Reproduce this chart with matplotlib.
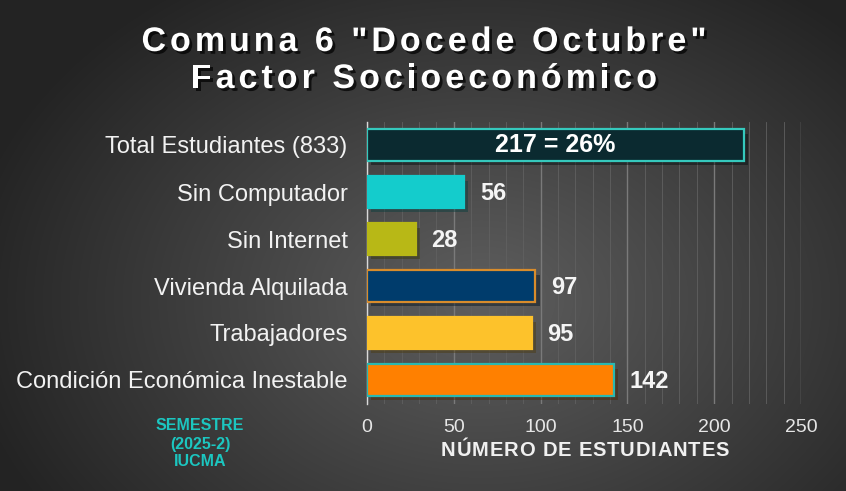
import numpy as np
import matplotlib.pyplot as plt
import matplotlib.patheffects as pe

categorias = ['Total Estudiantes (833)', 'Sin Computador', 'Sin Internet',
              'Vivienda Alquilada', 'Trabajadores', 'Condición Económica Inestable']
valores = [217, 56, 28, 97, 95, 142]
etiquetas = ['217 = 26%', '56', '28', '97', '95', '142']
relleno = ['#0b2a30', '#14cccc', '#b8b816', '#003c6c', '#fdc22b', '#ff8000']
borde = ['#35c9bd', '#14cccc', '#b8b816', '#d88c2c', '#fdc22b', '#2ab8b0']
ticks_x = [0, 50, 100, 150, 200, 250]

W, H = 846, 491
fig = plt.figure(figsize=(W / 100, H / 100), dpi=100)
rend = fig.canvas.get_renderer()


def ancho(s, **kw):
    t = fig.text(0, 0, s, **kw)
    w = t.get_window_extent(rend).width
    t.remove()
    return w


def texto_espaciado(s, xc, yb, esp, **kw):
    # texto con espaciado entre letras, xc / yb en pixeles (baseline)
    bar = ancho('|', **kw)
    pos = [ancho(s[:i] + '|', **kw) - bar if i else 0 for i in range(len(s))]
    total = ancho(s, **kw) + esp * (len(s) - 1)
    x0 = xc - total / 2
    for i, c in enumerate(s):
        if c == ' ':
            continue
        fig.text((x0 + pos[i] + i * esp) / W, 1 - yb / H, c, ha='left', va='baseline', **kw)


# fondo con degradado radial
bg = fig.add_axes([0, 0, 1, 1])
yy, xx = np.mgrid[0:H, 0:W]
r = np.sqrt(((xx - 480) / 520.0) ** 2 + ((yy - 300) / 380.0) ** 2)
g = np.clip(0.37 - 0.23 * r, 0.14, 0.37)
bg.imshow(np.dstack([g, g, g]), extent=[0, 1, 0, 1], aspect='auto', zorder=0)
bg.axis('off')

ax = fig.add_axes([367 / W, 1 - 403.5 / H, (801 - 367) / W, (403.5 - 121.5) / H])
ax.patch.set_alpha(0)

y = np.arange(len(categorias))
barras = ax.barh(y, valores, height=0.66, color=relleno, edgecolor=borde, linewidth=1.6, zorder=3)
for b in barras:
    b.set_path_effects([pe.SimplePatchShadow(offset=(3, -3), alpha=0.45), pe.Normal()])

ax.set_ylim(len(categorias) - 0.5, -0.5)
ax.set_xlim(0, 250)

ax.set_xticks(ticks_x)
ax.set_xticks(np.arange(0, 251, 10), minor=True)
ax.grid(axis='x', which='major', color='#7a7a7a', linewidth=1.0, zorder=1)
ax.grid(axis='x', which='minor', color='#606060', linewidth=0.6, zorder=1)
ax.tick_params(axis='both', which='both', length=0)
ax.tick_params(axis='x', colors='#e6e6e6', labelsize=14, pad=11)
ax.set_xticklabels([str(t) for t in ticks_x], family='Liberation Sans')

ax.set_yticks(y)
ax.set_yticklabels(categorias, family='Liberation Sans', fontsize=17, color='#f2f2f2')
ax.tick_params(axis='y', pad=14)

for s in ['top', 'right', 'bottom']:
    ax.spines[s].set_visible(False)
ax.spines['left'].set_color('#d9d9d9')
ax.spines['left'].set_linewidth(1.0)

for i, (v, t) in enumerate(zip(valores, etiquetas)):
    if i == 0:
        ax.text(v / 2, i, t, ha='center', va='center', color='white',
                fontsize=18, fontweight='bold', family='Liberation Sans', zorder=5)
    else:
        ax.text(v + 9, i + 0.04, t, ha='left', va='center', color='#f5f5f5',
                fontsize=17, fontweight='bold', family='Liberation Sans', zorder=5)

texto_espaciado('NÚMERO DE ESTUDIANTES', 585, 456, 0.8, color='#f0f0f0', fontsize=14.5,
                fontweight='bold', family='Liberation Sans')

fig.text(200 / W, 1 - 444 / H, 'SEMESTRE\n(2025-2)\nIUCMA', ha='center', va='center',
         color='#1cc6c0', fontsize=11.5, fontweight='bold', linespacing=1.25,
         family='Liberation Sans')

sombra = [pe.withSimplePatchShadow(offset=(2, -2), shadow_rgbFace='black', alpha=0.7)]
estilo_titulo = dict(color='white', fontsize=24.5, fontweight='bold', family='Liberation Sans',
                     path_effects=sombra)
texto_espaciado('Comuna 6 "Docede Octubre"', 424, 51, 4.0, **estilo_titulo)
texto_espaciado('Factor Socioeconómico', 424, 88, 4.0, **estilo_titulo)

fig.savefig('out.png', dpi=100)
